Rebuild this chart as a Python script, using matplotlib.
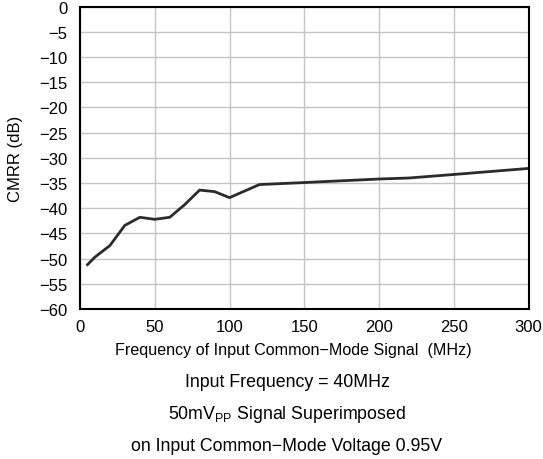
import matplotlib
matplotlib.use("Agg")
import matplotlib.pyplot as plt

plt.rcParams['font.family'] = ['Liberation Sans', 'DejaVu Sans']

freq_mhz = [5, 10, 20, 30, 40, 50, 60, 70, 80, 90, 100, 110, 120, 150, 200, 220, 250, 300]
cmrr_db = [-51.2, -49.7, -47.4, -43.4, -41.8, -42.2, -41.8, -39.3, -36.4, -36.7, -37.9, -36.6, -35.3, -34.9, -34.2, -34.0, -33.3, -32.1]

x_ticks = [0, 50, 100, 150, 200, 250, 300]
y_ticks = [0, -5, -10, -15, -20, -25, -30, -35, -40, -45, -50, -55, -60]

xlabel = "Frequency of Input Common\u2212Mode Signal  (MHz)"
ylabel = "CMRR (dB)"
notes = ["Input Frequency = 40MHz",
         "50mV$_{\\mathregular{PP}}$ Signal Superimposed",
         "on Input Common\u2212Mode Voltage 0.95V"]

fig = plt.figure(figsize=(5.43, 4.6), dpi=100)
ax = fig.add_axes([80/543, 1 - 310/460, (528.5-80)/543, (310-7.7)/460])

ax.plot(freq_mhz, cmrr_db, color='#2b2b2b', lw=2.0, solid_joinstyle='round')
ax.set_xlim(0, 300)
ax.set_ylim(-60, 0)
ax.set_xticks(x_ticks)
ax.set_yticks(y_ticks)
ax.set_yticklabels([("\u2212%d" % -v) if v < 0 else "%d" % v for v in y_ticks])
ax.grid(True, color='#c4c4c4', lw=1.0)
ax.tick_params(length=0, labelsize=12)
ax.tick_params(axis='y', pad=9)
ax.tick_params(axis='x', pad=7)
for s in ax.spines.values():
    s.set_linewidth(1.5)
    s.set_color('black')
ax.set_axisbelow(True)

ax.set_ylabel(ylabel, fontsize=12)
ax.yaxis.set_label_coords(-0.127, 0.5)
fig.text(293/543, 1 - 350/460, xlabel, ha='center', va='center', fontsize=11.6)
for yy, t in zip([383, 415, 447], notes):
    fig.text(287/543, 1 - yy/460, t, ha='center', va='center', fontsize=12.8)

fig.savefig("out.png", dpi=100)
